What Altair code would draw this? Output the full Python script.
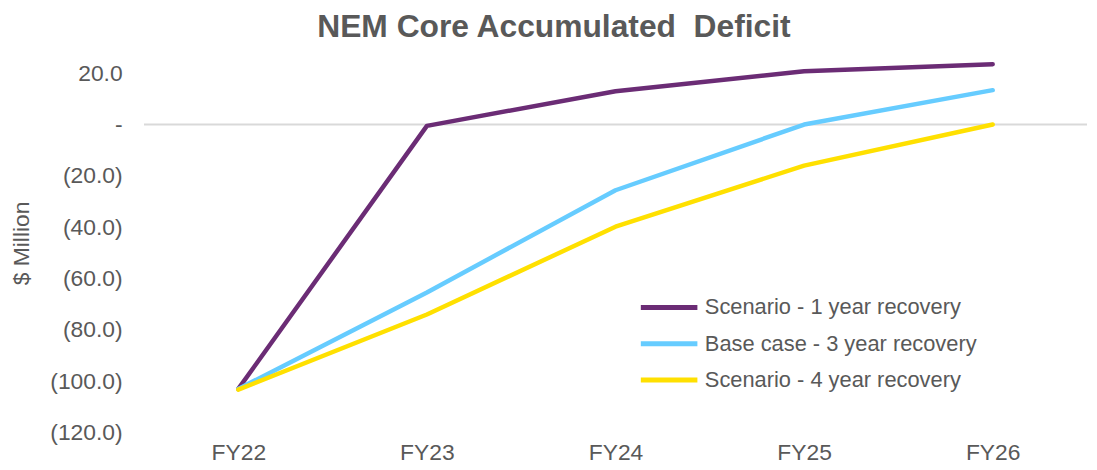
import altair as alt
import pandas as pd

years = ["FY22", "FY23", "FY24", "FY25", "FY26"]
series_names = ["Scenario - 1 year recovery", "Base case - 3 year recovery", "Scenario - 4 year recovery"]
one_year = [-103.0, -0.5, 13.0, 20.8, 23.5]
base_case = [-103.0, -65.4, -25.6, 0.0, 13.4]
four_year = [-103.3, -74.0, -39.8, -16.0, 0.0]
colors = ["#6B2C75", "#66CCFF", "#FFE000"]
y_ticks = [-120, -100, -80, -60, -40, -20, 0, 20]

rows = []
for name, vals in zip(series_names, [one_year, base_case, four_year]):
    for yr, v in zip(years, vals):
        rows.append({"year": yr, "value": v, "series": name})
df = pd.DataFrame(rows)

FONT = "Liberation Sans"
GREY = "#595959"
FS = 23

label_expr = ("datum.value < 0 ? '(' + format(-datum.value, ',.1f') + ')' : "
              "(datum.value == 0 ? '-\u2008' : format(datum.value, ',.1f') + '\u2008')")

zero = alt.Chart(pd.DataFrame({"z": [0]})).mark_rule(color="#D9D9D9", strokeWidth=2).encode(
    y=alt.Y("z:Q", scale=alt.Scale(domain=[-120, 20], nice=False, zero=False))
)

lines = alt.Chart(df).mark_line(strokeWidth=4.5, strokeCap="round", strokeJoin="round").encode(
    x=alt.X("year:N", sort=years, scale=alt.Scale(type="point", padding=0.5),
            axis=alt.Axis(title=None, domain=False, ticks=False, labelAngle=0,
                          labelFont=FONT, labelFontSize=FS, labelColor=GREY, labelPadding=9)),
    y=alt.Y("value:Q", scale=alt.Scale(domain=[-120, 20], nice=False, zero=False),
            axis=alt.Axis(title="$ Million", values=y_ticks, grid=False, domain=False, ticks=False,
                          labelExpr=label_expr, labelFont=FONT, labelFontSize=FS, labelColor=GREY,
                          labelPadding=22, titleFont=FONT, titleFontSize=23, titleFontWeight="normal",
                          titleColor=GREY, titleX=-123, titleY=171, titleAngle=-90,
                          titleBaseline="middle", titleAlign="center")),
    color=alt.Color("series:N", sort=series_names,
                    scale=alt.Scale(domain=series_names, range=colors),
                    legend=alt.Legend(title=None, orient="none", legendX=512, legendY=219,
                                      symbolType="M-2,0H2", symbolSize=812, symbolStrokeWidth=5,
                                      symbolFillColor="transparent",
                                      labelFont=FONT, labelFontSize=22, labelColor=GREY,
                                      labelLimit=400, rowPadding=8.5, labelOffset=19)),
)

chart = alt.layer(zero, lines).properties(
    width=950, height=362,
    autosize=alt.AutoSizeParams(type="none"),
    padding={"left": 137, "top": 64, "right": 2, "bottom": 34},
    title=alt.TitleParams("NEM Core Accumulated\u00a0 Deficit", font=FONT, fontSize=32, fontWeight="bold",
                          color=GREY, anchor="middle", dx=-62, offset=18),
).configure(background="white", view=alt.ViewConfig(strokeWidth=0))

chart.save("out.html", embed_options={"renderer": "svg", "actions": False})
